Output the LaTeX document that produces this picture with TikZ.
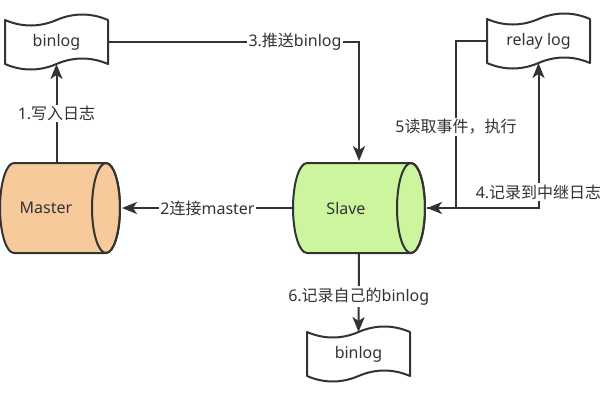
\documentclass[tikz,border=0pt]{standalone}
\usepackage{fontspec}
\setmainfont{Noto Sans}
\newfontfamily\cjk{Noto Sans CJK SC}
\usetikzlibrary{arrows.meta,calc}
\definecolor{ink}{HTML}{333333}
\definecolor{masterfill}{HTML}{F7CA9C}
\definecolor{slavefill}{HTML}{CDF59E}
\newcommand{\tapepath}[1]{%
  \draw[shapeline] (#1.north west)
    .. controls +(17.17,7.33) and +(-17.17,7.33) .. (#1.north)
    .. controls +(17.17,-7.33) and +(-17.17,-7.33) .. (#1.north east)
    -- (#1.south east)
    .. controls +(-17.17,-7.33) and +(17.17,-7.33) .. (#1.south)
    .. controls +(-17.17,7.33) and +(17.17,7.33) .. (#1.south west)
    -- cycle;}
\begin{document}
\begin{tikzpicture}[x=1pt,y=-1pt,
  every node/.style={font=\fontsize{16}{19}\selectfont, text=ink, outer sep=0pt, inner sep=0pt},
  shapeline/.style={draw=ink, line width=2pt, line join=round},
  tapebox/.style={minimum width=103pt, minimum height=44pt},
  conn/.style={draw=ink, line width=2pt, -{Stealth[length=15pt,width=12pt,inset=4pt]}},
  lbl/.style={fill=white, inner sep=1.5pt},
]
\useasboundingbox[fill=white] (0,0) rectangle (600,400);

% cylinders
\draw[shapeline, fill=masterfill] (14,163) -- (106,163)
  arc[start angle=-90,end angle=90,x radius=14,y radius=45] -- (14,253)
  arc[start angle=90,end angle=270,x radius=14,y radius=45] -- cycle;
\draw[shapeline] (106,208) ellipse[x radius=14,y radius=45];
\draw[shapeline, fill=slavefill] (307,163) -- (411,163)
  arc[start angle=-90,end angle=90,x radius=14,y radius=45] -- (307,253)
  arc[start angle=90,end angle=270,x radius=14,y radius=45] -- cycle;
\draw[shapeline] (411,208) ellipse[x radius=14,y radius=45];

% nodes
\node (master) at (46,208) {Master};
\node (slave) at (346,208) {Slave};
\node[tapebox] (bin1) at (56.5,42) {binlog};
\node[tapebox] (relay) at (538.5,41) {relay log};
\node[tapebox] (bin2) at (358.5,354) {binlog};
\tapepath{bin1}
\tapepath{relay}
\tapepath{bin2}

% connector ends on the cylinders
\coordinate (masterT) at (56.5,163);
\coordinate (masterR) at (122,208);
\coordinate (slaveT) at (359,161);
\coordinate (slaveB) at (359,253);
\coordinate (slaveL) at (293,208);
\coordinate (slaveR) at (427,208);
\coordinate (j5) at (456,208);

% connectors
\draw[conn] (masterT) -- node[lbl] {1.{\cjk 写入日志}} (bin1.south);
\draw[conn] (slaveL) -- node[lbl] {2{\cjk 连接}master} (masterR);
\draw[conn] (bin1.east) -- node[lbl,pos=0.745] {3.{\cjk 推送}binlog} (bin1.east -| slaveT) -- (slaveT);
\draw[conn] (slaveR) -| node[lbl,pos=0.555] {4.{\cjk 记录到中继日志}} (relay.south);
\draw[conn] (relay.west) -| node[lbl,pos=0.757] {5{\cjk 读取事件，执行}} (j5) -- (slaveR);
\draw[conn] (slaveB) -- node[lbl,pos=0.55] {6.{\cjk 记录自己的}binlog} (bin2.north);
\end{tikzpicture}
\end{document}
